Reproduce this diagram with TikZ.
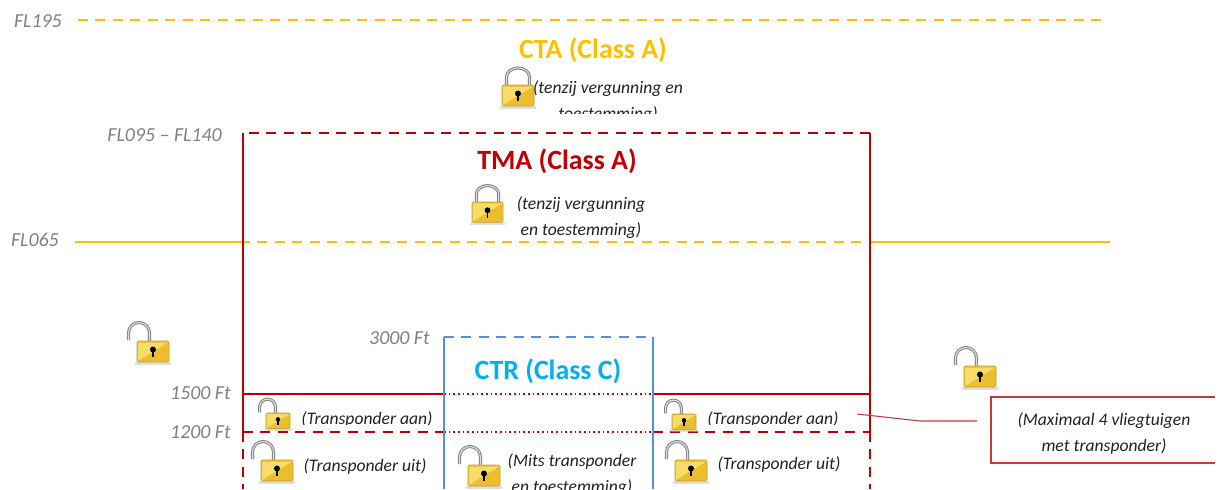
\documentclass[tikz,border=0pt]{standalone}
\usepackage{fontspec}
\setmainfont{Carlito}
\definecolor{ctaor}{HTML}{FFC000}
\definecolor{tmared}{HTML}{C00000}
\definecolor{ctrblue}{HTML}{00B0F0}
\definecolor{bluel}{HTML}{5B8FD9}
\definecolor{boxred}{HTML}{C8393C}
\definecolor{greyt}{HTML}{808080}
\definecolor{txt}{HTML}{222222}
\definecolor{lockhi}{HTML}{F7DC6A}
\definecolor{locklo}{HTML}{EBBE2E}
\newcommand{\lockface}{%
    \fill[black!25,opacity=.5] (-2,20.5) rectangle (34,24);
    \fill[lockbody] (0,0) rectangle (32,21);
    \fill[lockhi] (1,1.5) -- (31,1.5) -- (1,20) -- cycle;
    \fill[black] (16,8.5) circle[radius=3];
    \fill[black] (15,9) rectangle (17,16);
}
\tikzset{
  x=0.75pt,y=-0.75pt,
  orline/.style={draw=ctaor,line width=1.8pt},
  orfine/.style={orline,dash pattern=on 7.5pt off 5.6pt},
  redl/.style={draw=tmared,line width=2pt},
  redd/.style={redl,dash pattern=on 7.5pt off 5.6pt},
  redo/.style={draw=red!80!black,line width=1.2pt,dash pattern=on 1.2pt off 2.3pt},
  bluel/.style={draw=bluel,line width=1.8pt},
  blued/.style={bluel,dash pattern=on 7.5pt off 5.6pt},
  thinred/.style={draw=boxred,line width=0.8pt},
  fl/.style={font=\itshape\fontsize{14.9}{17}\selectfont,text=greyt,inner sep=0pt},
  note/.style={font=\itshape\fontsize{13.2}{19.5}\selectfont,text=txt,inner sep=0pt,align=center},
  title/.style={font=\bfseries\fontsize{20.9}{24}\selectfont,inner sep=0pt},
  lockbody/.style={fill=locklo,draw=ctaor!70!black!80!white,line width=.4pt,rounded corners=1pt},
  pics/closedlock/.style={code={
    \draw[black!50,line width=2.3pt] (4.5,2) -- (4.5,-8) arc[start angle=180,end angle=0,x radius=11.5,y radius=-9] -- (27.5,2);
    \draw[black!12,line width=.8pt] (4.5,2) -- (4.5,-8) arc[start angle=180,end angle=0,x radius=11.5,y radius=-9] -- (27.5,2);
    \lockface
  }},
  pics/openlock/.style={code={
    \draw[black!50,line width=2.3pt] (-8.5,-1) -- (-8.5,-8) arc[start angle=180,end angle=0,x radius=10.5,y radius=-10.5] -- (12.5,2);
    \draw[black!12,line width=.8pt] (-8.5,-1) -- (-8.5,-8) arc[start angle=180,end angle=0,x radius=10.5,y radius=-10.5] -- (12.5,2);
    \lockface
  }}
}
\begin{document}
\begin{tikzpicture}[x=0.75pt,y=-0.75pt]
\useasboundingbox (0,0) rectangle (1223,489);
\begin{scope}
\clip (0,0) rectangle (1223,489);
% coordinates
\coordinate (ctal) at (78,20); \coordinate (ctar) at (1106,20);
\coordinate (fl65a) at (75,242); \coordinate (fl65b) at (240,242); \coordinate (fl65c) at (870,242); \coordinate (fl65d) at (1110,242);
\coordinate (tl) at (249,133); \coordinate (tr) at (870,133);
\coordinate (ta) at (243,133); \coordinate (tb) at (870,133);
\coordinate (a1) at (243,394); \coordinate (a2) at (444,394); \coordinate (a3) at (653,394); \coordinate (a4) at (870,394);
\coordinate (b1) at (243,432); \coordinate (b2) at (444,432); \coordinate (b3) at (653,432); \coordinate (b4) at (870,432);
\coordinate (c1) at (243,489); \coordinate (c2) at (444,489); \coordinate (c3) at (653,489); \coordinate (c4) at (870,489);
\coordinate (d2) at (444,337); \coordinate (d3) at (653,337);
\coordinate (l0) at (857,414); \coordinate (l1) at (920,421); \coordinate (l2) at (977,421);
\coordinate (bx1) at (1215,397); \coordinate (bx2) at (991,397); \coordinate (bx3) at (991,463); \coordinate (bx4) at (1215,463);
% lines
\path[orfine] (ctal) -- (ctar);
\path[orline] (fl65a) -- (fl65b);
\path[orfine] (fl65b) -- (fl65c);
\path[orline] (fl65c) -- (fl65d);
\path[redd] (tl) -- (tr);
\path[redl] (ta) -- (a1) -- (b1);
\path[redl] (tb) -- (a4) -- (b4);
\path[redl] (a1) -- (a2);
\path[redl] (a3) -- (a4);
\path[redo] (a2) -- (a3);
\path[redd] (b1) -- (b2);
\path[redo] (b2) -- (b3);
\path[redd] (b3) -- (b4);
\path[redd] (b1) -- (c1);
\path[redd] (b4) -- (c4);
\path[blued] (d2) -- (d3);
\path[bluel] (d2) -- (c2);
\path[bluel] (d3) -- (c3);
% labels
\node[fl,anchor=east] (fl195) at (62,21) {FL195};
\node[fl,anchor=east] (fl140) at (222,135) {FL095 – FL140};
\node[fl,anchor=east] (fl065) at (59,240) {FL065};
\node[fl,anchor=east] (ft3000) at (430,338) {3000 Ft};
\node[fl,anchor=east] (ft1500) at (231,393) {1500 Ft};
\node[fl,anchor=east] (ft1200) at (231,432) {1200 Ft};
\node[title,text=ctaor] (cta) at (593,50) {CTA (Class A)};
\node[title,text=tmared] (tma) at (557,161) {TMA (Class A)};
\node[title,text=ctrblue] (ctr) at (548,371) {CTR (Class C)};
% locks
\pic at (502,85) {closedlock};
\pic[scale=.97] at (472,202) {closedlock};
\pic at (137,341) {openlock};
\pic at (964,366) {openlock};
\pic[scale=.75] at (266,413) {openlock};
\pic[scale=.75] at (672,414) {openlock};
\pic at (261,460) {openlock};
\pic at (468,465) {openlock};
\pic at (675,460) {openlock};
% clipped texts
\begin{scope}
\clip (520,70) rectangle (700,113);
\node[note,anchor=north] (n1) at (608,80) {(tenzij vergunning en\\toestemming)};
\end{scope}
\node[note,anchor=north] (n2) at (581,196) {(tenzij vergunning\\en toestemming)};
\begin{scope}
\clip (295,405) rectangle (440,424);
\node[note,anchor=center] (n3) at (367,419) {(Transponder aan)};
\end{scope}
\begin{scope}
\clip (700,405) rectangle (845,424);
\node[note,anchor=center] (n4) at (773,419) {(Transponder aan)};
\end{scope}
\node[note] (n5) at (365,466) {(Transponder uit)};
\node[note] (n6) at (779,464) {(Transponder uit)};
\node[note,anchor=north] (n7) at (572,453) {(Mits transponder\\en toestemming)};
% callout
\path[thinred] (bx1) -- (bx2) -- (bx3) -- (bx4);
\node[note] (box) at (1104,433) {(Maximaal 4 vliegtuigen\\met transponder)};
\path[thinred] (l0) -- (l1) -- (l2);
\end{scope}
\end{tikzpicture}
\end{document}
